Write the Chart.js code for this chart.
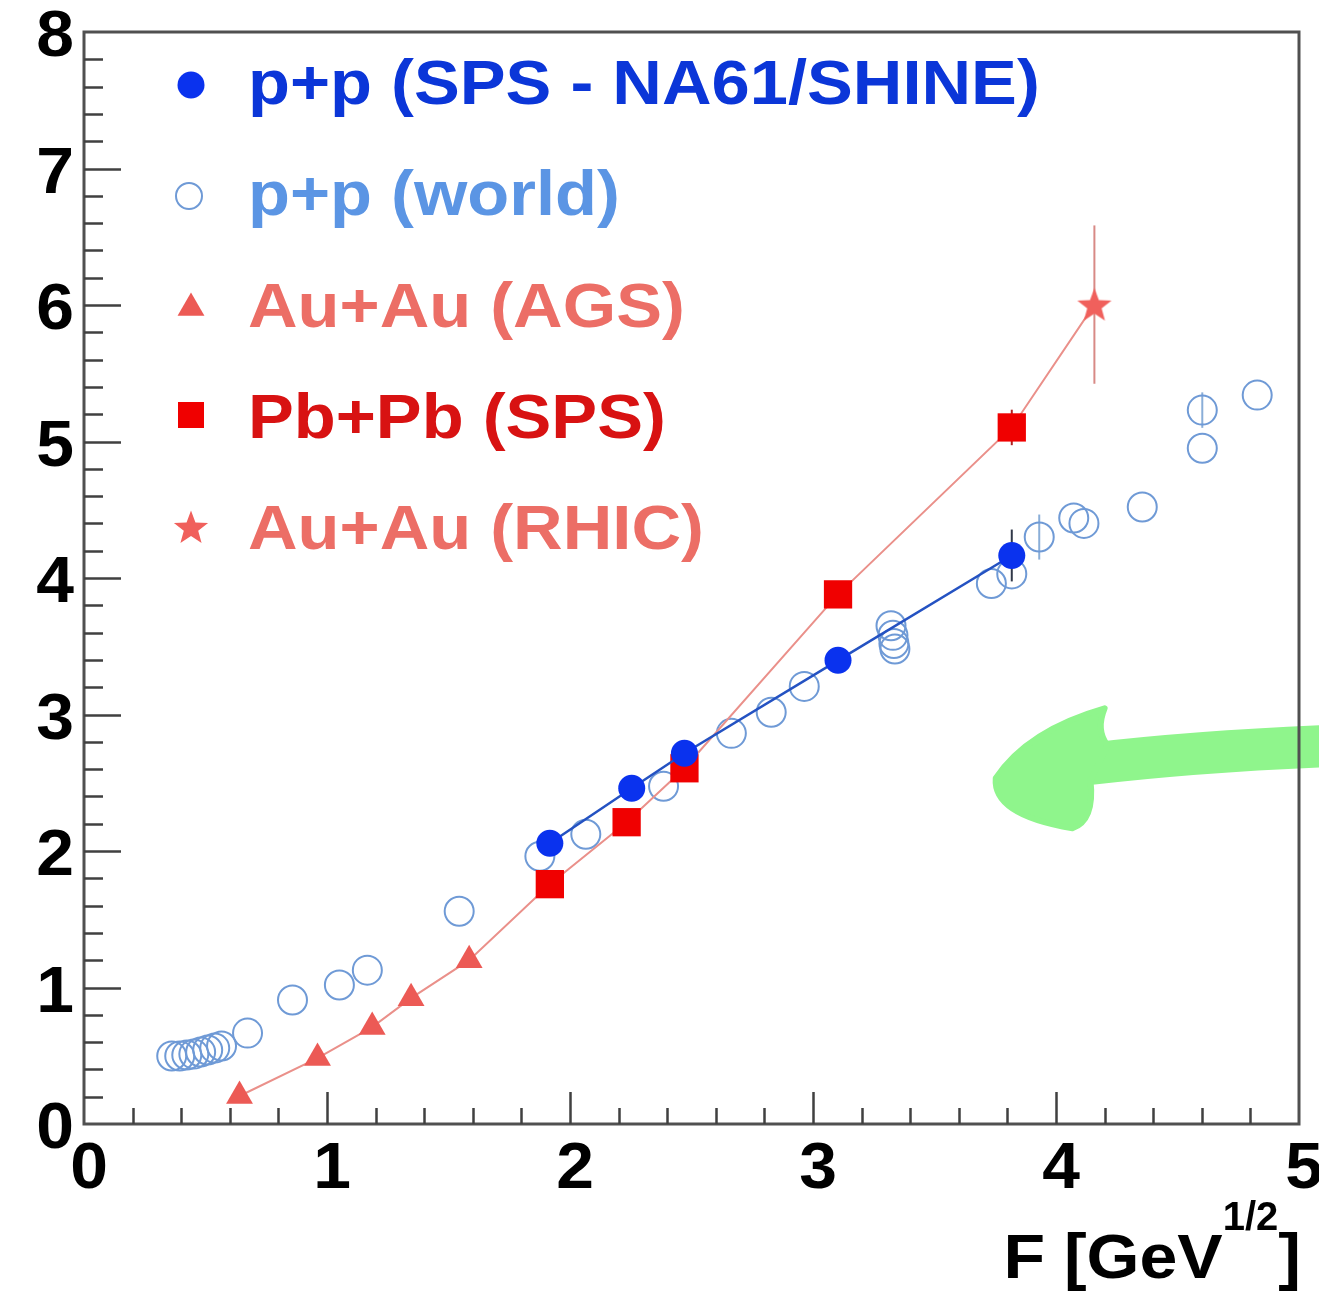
<!DOCTYPE html>
<html>
<head>
<meta charset="utf-8">
<script src="https://cdn.jsdelivr.net/npm/chart.js@4.4.1/dist/chart.umd.min.js"></script>
<style>
  html, body { margin: 0; padding: 0; background: #ffffff; }
  #wrap { width: 1319px; height: 1305px; position: relative; }
  canvas { display: block; }
</style>
</head>
<body>
<div id="wrap"><canvas id="chart" width="1319" height="1305"></canvas></div>
<script>
// ---- data: x = F [GeV^1/2], y = quantity on the vertical axis ----
// p+p (SPS - NA61/SHINE)
const na61F   = [1.917, 2.254, 2.471, 3.103, 3.818];
const na61Y   = [2.057, 2.460, 2.716, 3.397, 4.165];
const na61Err = [0.04, 0.04, 0.04, 0.05, 0.19];

// p+p (world)
const worldF   = [0.361, 0.394, 0.423, 0.452, 0.480, 0.509, 0.538, 0.566, 0.673, 0.858,
                  1.051, 1.166, 1.544, 1.876, 2.065, 2.385, 2.664, 2.828, 2.964, 3.321,
                  3.329, 3.333, 3.337, 3.734, 3.818, 3.931, 4.073, 4.115, 4.355, 4.602,
                  4.602, 4.828];
const worldY   = [0.498, 0.498, 0.505, 0.512, 0.527, 0.542, 0.556, 0.571, 0.666, 0.908,
                  1.018, 1.127, 1.559, 1.962, 2.123, 2.474, 2.862, 3.016, 3.206, 3.650,
                  3.580, 3.520, 3.480, 3.960, 4.030, 4.300, 4.440, 4.400, 4.520, 5.230,
                  4.950, 5.340];
const worldErr = [0, 0, 0, 0, 0, 0, 0, 0, 0, 0,
                  0, 0, 0, 0, 0, 0, 0, 0, 0, 0,
                  0, 0, 0, 0, 0, 0.165, 0, 0, 0, 0.13,
                  0, 0];

// Au+Au (AGS)
const agsF = [0.640, 0.961, 1.186, 1.346, 1.585];
const agsY = [0.205, 0.483, 0.710, 0.922, 1.200];

// Pb+Pb (SPS)
const spsF   = [1.917, 2.233, 2.471, 3.103, 3.818];
const spsY   = [1.757, 2.211, 2.606, 3.880, 5.103];
const spsErr = [0.03, 0.03, 0.03, 0.05, 0.13];

// Au+Au (RHIC)
const rhicF   = [4.158];
const rhicY   = [6.003];
const rhicErr = [0.58];

// axis ticks and labels
const xTickLabels = ['0', '1', '2', '3', '4', '5'];
const yTickLabels = ['0', '1', '2', '3', '4', '5', '6', '7', '8'];
const legendLabels = ['p+p (SPS - NA61/SHINE)', 'p+p (world)', 'Au+Au (AGS)', 'Pb+Pb (SPS)', 'Au+Au (RHIC)'];
const xTitleMain = 'F [GeV';
const xTitleSup = '1/2';
const xTitleEnd = ']';

// ---- styling ----
const C = {
  na61: '#0a32ee', na61Line: '#2452c2', na61Text: '#0b36d8',
  world: '#6f9ad6', worldText: '#5b95e4',
  ags: '#ec5a55', agsText: '#ec6e66',
  sps: '#f00000', spsText: '#d81212',
  rhic: '#f0605c', rhicText: '#ec6e66',
  redLine: '#ea908a',
  frame: '#505050', text: '#000000',
  arrow: '#8ff58c'
};
const FONT = '"Liberation Sans", Arial, Helvetica, sans-serif';

function starPath(g, cx, cy, R, r) {
  g.beginPath();
  for (let i = 0; i < 10; i++) {
    const a = -Math.PI / 2 + i * Math.PI / 5;
    const rad = i % 2 === 0 ? R : r;
    g.lineTo(cx + rad * Math.cos(a), cy + rad * Math.sin(a));
  }
  g.closePath();
}
function makeStar(R, color) {
  const c = document.createElement('canvas');
  const s = Math.ceil(R * 2 + 4);
  c.width = s; c.height = s;
  const g = c.getContext('2d');
  starPath(g, s / 2, s / 2 + 1.5, R, R * 0.42);
  g.fillStyle = color;
  g.fill();
  return c;
}
const starImg = makeStar(18, C.rhic);

const toPts = (xs, ys) => xs.map((x, i) => ({ x: x, y: ys[i] }));

// one connecting line through the heavy-ion points, ordered in F
const heavyIonF = agsF.concat(spsF, rhicF);
const heavyIonY = agsY.concat(spsY, rhicY);

// error bars: [xs, ys, errs, colour]
const errorSets = [
  [worldF, worldY, worldErr, '#8aaed8'],
  [spsF, spsY, spsErr, '#b02020'],
  [rhicF, rhicY, rhicErr, '#d88a86'],
  [na61F, na61Y, na61Err, '#303848']
];

// hand-drawn arrow annotation, in axis units
const arrowHead = [
  [4.200, 3.045],
  [3.883, 2.884, 3.752, 2.533],
  [3.740, 2.262, 4.068, 2.167],
  [4.160, 2.225, 4.142, 2.518],
  [4.212, 2.775],
  [4.163, 2.884, 4.200, 3.045]
];
const arrowShaft = [[4.150, 2.640], [4.581, 2.730], [5.130, 2.770]];

function stretchedText(ctx, txt, x, y, font, color, sx, align) {
  ctx.save();
  ctx.font = font;
  ctx.fillStyle = color;
  ctx.textBaseline = 'alphabetic';
  const w = ctx.measureText(txt).width * sx;
  let x0 = x;
  if (align === 'center') x0 = x - w / 2;
  else if (align === 'right') x0 = x - w;
  ctx.translate(x0, y);
  ctx.scale(sx, 1);
  ctx.textAlign = 'left';
  ctx.fillText(txt, 0, 0);
  ctx.restore();
  return w;
}

const decor = {
  id: 'decor',
  beforeDatasetsDraw(chart) {
    const ctx = chart.ctx, xs = chart.scales.x, ys = chart.scales.y;
    ctx.save();
    ctx.lineWidth = 2;
    errorSets.forEach(([fx, fy, fe, col]) => {
      ctx.strokeStyle = col;
      fx.forEach((f, i) => {
        if (!fe[i]) return;
        const px = xs.getPixelForValue(f);
        ctx.beginPath();
        ctx.moveTo(px, ys.getPixelForValue(fy[i] - fe[i]));
        ctx.lineTo(px, ys.getPixelForValue(fy[i] + fe[i]));
        ctx.stroke();
      });
    });
    ctx.restore();
  },
  afterDatasetsDraw(chart) {
    const ctx = chart.ctx, xs = chart.scales.x, ys = chart.scales.y;
    const P = (a, b) => [xs.getPixelForValue(a), ys.getPixelForValue(b)];
    ctx.save();
    // arrow shaft
    ctx.strokeStyle = C.arrow;
    ctx.lineWidth = 42;
    ctx.lineCap = 'round';
    ctx.beginPath();
    let p = P(...arrowShaft[0]); ctx.moveTo(p[0], p[1]);
    const c1 = P(...arrowShaft[1]), e1 = P(...arrowShaft[2]);
    ctx.quadraticCurveTo(c1[0], c1[1], e1[0], e1[1]);
    ctx.stroke();
    // arrow head
    ctx.fillStyle = C.arrow;
    ctx.beginPath();
    p = P(arrowHead[0][0], arrowHead[0][1]); ctx.moveTo(p[0], p[1]);
    for (let i = 1; i < arrowHead.length; i++) {
      const s = arrowHead[i];
      if (s.length === 4) {
        const a = P(s[0], s[1]), b = P(s[2], s[3]);
        ctx.quadraticCurveTo(a[0], a[1], b[0], b[1]);
      } else {
        const a = P(s[0], s[1]);
        ctx.lineTo(a[0], a[1]);
      }
    }
    ctx.closePath();
    ctx.fill();
    ctx.lineJoin = 'round';
    ctx.lineWidth = 6;
    ctx.strokeStyle = C.arrow;
    ctx.stroke();
    ctx.restore();
  },
  afterDraw(chart) {
    const ctx = chart.ctx, xs = chart.scales.x, ys = chart.scales.y;
    const a = chart.chartArea;
    ctx.save();
    // frame
    ctx.strokeStyle = C.frame;
    ctx.lineWidth = 3;
    ctx.strokeRect(a.left, a.top, a.right - a.left, a.bottom - a.top);
    // inward ticks
    ctx.lineWidth = 2.5;
    ctx.strokeStyle = '#404040';
    ctx.beginPath();
    for (let i = 0; i <= 40; i++) {
      const v = i * 0.2;
      const py = Math.round(ys.getPixelForValue(v)) + 0.5;
      const len = i % 5 === 0 ? 37 : 19;
      if (i > 0 && i < 40) { ctx.moveTo(a.left, py); ctx.lineTo(a.left + len, py); }
    }
    for (let i = 0; i <= 25; i++) {
      const v = i * 0.2;
      const px = Math.round(xs.getPixelForValue(v)) + 0.5;
      const len = i % 5 === 0 ? 32 : 16;
      if (i > 0 && i < 25) { ctx.moveTo(px, a.bottom); ctx.lineTo(px, a.bottom - len); }
    }
    ctx.stroke();
    // tick labels
    const tickFont = 'bold 64px ' + FONT;
    yTickLabels.forEach(t => {
      const py = ys.getPixelForValue(parseFloat(t));
      stretchedText(ctx, t, 74, py + 24, tickFont, C.text, 1.06, 'right');
    });
    xTickLabels.forEach(t => {
      const px = xs.getPixelForValue(parseFloat(t));
      stretchedText(ctx, t, px + 5, 1188, tickFont, C.text, 1.06, 'center');
    });
    // axis title, right aligned
    const tf = 'bold 63px ' + FONT, sf = 'bold 40px ' + FONT;
    ctx.font = tf;
    const wMain = ctx.measureText(xTitleMain).width * 1.08;
    const wEnd = ctx.measureText(xTitleEnd).width * 1.08;
    ctx.font = sf;
    const wSup = ctx.measureText(xTitleSup).width * 1.0;
    const right = 1301;
    let x0 = right - wEnd - wSup - wMain;
    stretchedText(ctx, xTitleMain, x0, 1278, tf, C.text, 1.08, 'left');
    stretchedText(ctx, xTitleSup, x0 + wMain, 1230, sf, C.text, 1.0, 'left');
    stretchedText(ctx, xTitleEnd, x0 + wMain + wSup, 1278, tf, C.text, 1.08, 'left');

    // legend
    const lf = 'bold 63px ' + FONT;
    const rows = [104, 215, 327, 438, 549];
    const textCols = [C.na61Text, C.worldText, C.agsText, C.spsText, C.rhicText];
    const mx = 191;
    legendLabels.forEach((lab, i) => {
      stretchedText(ctx, lab, 248, rows[i], lf, textCols[i], 1.09, 'left');
    });
    // legend markers
    let my = rows[0] - 19;
    ctx.fillStyle = C.na61;
    ctx.beginPath(); ctx.arc(mx, my, 13.5, 0, Math.PI * 2); ctx.fill();
    my = rows[1] - 19;
    ctx.strokeStyle = C.world; ctx.lineWidth = 2;
    ctx.beginPath(); ctx.arc(mx - 2, my, 13, 0, Math.PI * 2); ctx.stroke();
    my = rows[2] - 19;
    ctx.fillStyle = C.ags;
    ctx.beginPath();
    const r = 15.5;
    ctx.moveTo(mx, my - r);
    ctx.lineTo(mx + r * Math.sqrt(3) / 2, my + r / 2);
    ctx.lineTo(mx - r * Math.sqrt(3) / 2, my + r / 2);
    ctx.closePath(); ctx.fill();
    my = rows[3] - 23;
    ctx.fillStyle = C.sps;
    ctx.fillRect(mx - 13, my - 13, 26, 26);
    my = rows[4] - 22;
    ctx.drawImage(starImg, mx - starImg.width / 2, my - starImg.height / 2);
    ctx.restore();
  }
};

const ctx = document.getElementById('chart').getContext('2d');
new Chart(ctx, {
  type: 'scatter',
  data: {
    datasets: [
      {
        label: legendLabels[0],
        data: toPts(na61F, na61Y),
        showLine: true,
        borderColor: C.na61Line,
        borderWidth: 2.5,
        pointStyle: 'circle',
        pointRadius: 13.5,
        pointBackgroundColor: C.na61,
        pointBorderColor: C.na61,
        pointBorderWidth: 0,
        order: 0
      },
      {
        label: legendLabels[3],
        data: toPts(spsF, spsY),
        showLine: false,
        pointStyle: 'rect',
        pointRadius: 20,
        pointBackgroundColor: C.sps,
        pointBorderColor: C.sps,
        pointBorderWidth: 0,
        order: 1
      },
      {
        label: legendLabels[2],
        data: toPts(agsF, agsY),
        showLine: false,
        pointStyle: 'triangle',
        pointRadius: 15.5,
        pointBackgroundColor: C.ags,
        pointBorderColor: C.ags,
        pointBorderWidth: 0,
        order: 2
      },
      {
        label: legendLabels[4],
        data: toPts(rhicF, rhicY),
        showLine: false,
        pointStyle: starImg,
        pointRadius: 18,
        order: 3
      },
      {
        label: 'heavy-ion line',
        data: toPts(heavyIonF, heavyIonY),
        showLine: true,
        borderColor: C.redLine,
        borderWidth: 2,
        pointRadius: 0,
        order: 4
      },
      {
        label: legendLabels[1],
        data: toPts(worldF, worldY),
        showLine: false,
        pointStyle: 'circle',
        pointRadius: 14.5,
        pointBackgroundColor: 'rgba(255,255,255,0)',
        pointBorderColor: C.world,
        pointBorderWidth: 2,
        order: 5
      }
    ]
  },
  options: {
    responsive: false,
    animation: false,
    layout: { padding: { left: 84, top: 32, right: 17, bottom: 181 } },
    plugins: { legend: { display: false }, tooltip: { enabled: false } },
    scales: {
      x: { type: 'linear', min: 0, max: 5, display: false },
      y: { type: 'linear', min: 0, max: 8, display: false }
    },
    elements: { line: { tension: 0 } }
  },
  plugins: [decor]
});
</script>
</body>
</html>
